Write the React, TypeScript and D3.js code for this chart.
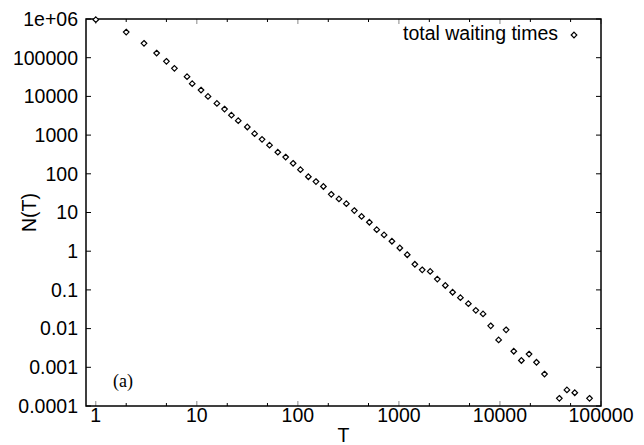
import React from 'react';
import * as d3 from 'd3';

// waiting time T (log-binned) and number of events N(T)
const waitT = [
	1, 2, 3, 4, 5, 6, 8, 9, 11, 12.9, 15.8, 18.8, 22, 25.7, 31.6, 37.3, 44.2, 52.4, 63.3, 75.7,
	89.7, 106, 127, 151, 179, 214, 255, 302, 362, 427, 510, 603, 713, 853, 1021, 1209, 1438,
	1700, 2040, 2400, 2880, 3400, 4060, 4870, 5770, 6800, 8100, 9700, 11500, 13700, 16300,
	19400, 23000, 27600, 38700, 46000, 55000, 77000
];
const waitN = [
	9.6e5, 4.6e5, 2.35e5, 1.32e5, 8.06e4, 5.3e4, 3.23e4, 2.13e4, 1.46e4, 1.0e4, 6.6e3, 4.7e3,
	3.27e3, 2.36e3, 1.62e3, 1.09e3, 776, 549, 361, 271, 187, 128, 84, 63, 47, 29.5, 22.4, 16.9,
	11.2, 7.9, 5.6, 3.6, 2.63, 1.81, 1.21, 0.81, 0.46, 0.33, 0.30, 0.19, 0.13, 0.087, 0.063,
	0.044, 0.0296, 0.024, 0.0118, 0.0051, 0.0093, 0.0026, 0.0015, 0.0022, 0.00135, 0.00067,
	0.000158, 0.00026, 0.00022, 0.000158
];

const xTicks = [1, 10, 100, 1000, 10000, 100000];
const xTickLabels = ['1', '10', '100', '1000', '10000', '100000'];
const yTicks = [1e6, 1e5, 1e4, 1e3, 100, 10, 1, 0.1, 0.01, 0.001, 0.0001];
const yTickLabels = ['1e+06', '100000', '10000', '1000', '100', '10', '1', '0.1', '0.01', '0.001', '0.0001'];

const seriesName = 'total waiting times';

const W = 644, H = 445;
const margin = { top: 19, right: 43, bottom: 39, left: 86 };
const font = '"Liberation Sans", Arial, sans-serif';

const diamond = (cx: number, cy: number, r: number) =>
	`M${cx},${cy - r}L${cx + r},${cy}L${cx},${cy + r}L${cx - r},${cy}Z`;

export default function App() {
	const left = margin.left, right = W - margin.right;
	const top = margin.top, bottom = H - margin.bottom;

	const x = d3.scaleLog().domain([0.8, 100000]).range([left, right]);
	const y = d3.scaleLog().domain([0.0001, 1e6]).range([bottom, top]);

	// minor ticks at 2 and 5 of each decade
	const minorX: number[] = [];
	xTicks.slice(0, -1).forEach(t => { minorX.push(t * 2, t * 5); });

	const points = waitT.map((t, i) => ({ t, n: waitN[i] }));

	return (
		<svg width={W} height={H} style={{ position: 'absolute', left: 0, top: 0, background: '#fff' }}>
			{/* x ticks, bottom and top */}
			{xTicks.map(t => (
				<g key={'xt' + t}>
					<line x1={x(t)} x2={x(t)} y1={bottom} y2={bottom - 5} stroke="#888" strokeWidth={1} />
					<line x1={x(t)} x2={x(t)} y1={top} y2={top + 5} stroke="#888" strokeWidth={1} />
				</g>
			))}
			{minorX.map(t => (
				<g key={'xm' + t}>
					<line x1={x(t)} x2={x(t)} y1={bottom} y2={bottom - 3} stroke="#000" strokeWidth={1} />
					<line x1={x(t)} x2={x(t)} y1={top} y2={top + 3} stroke="#000" strokeWidth={1} />
				</g>
			))}
			{yTicks.map(t => (
				<g key={'yt' + t}>
					<line x1={left} x2={left + 5} y1={y(t)} y2={y(t)} stroke="#000" strokeWidth={1} />
					<line x1={right} x2={right - 5} y1={y(t)} y2={y(t)} stroke="#000" strokeWidth={1} />
				</g>
			))}

			{/* frame */}
			<rect x={left} y={top} width={right - left} height={bottom - top} fill="none" stroke="#000" strokeWidth={1.5} />

			{/* tick labels */}
			{xTicks.map((t, i) => (
				<text key={'xl' + t} x={x(t)} y={bottom + 16} textAnchor="middle" fontFamily={font} fontSize={19.5}>
					{xTickLabels[i]}
				</text>
			))}
			{yTicks.map((t, i) => (
				<text key={'yl' + t} x={left - 8} y={y(t)} dy="0.35em" textAnchor="end" fontFamily={font} fontSize={19.5}>
					{yTickLabels[i]}
				</text>
			))}

			{/* axis titles */}
			<text x={(left + right) / 2} y={442} textAnchor="middle" fontFamily={font} fontSize={19.5}>T</text>
			<text transform={`translate(36,${(top + bottom) / 2}) rotate(-90)`} textAnchor="middle" fontFamily={font} fontSize={19.5}>N(T)</text>

			{/* panel label */}
			<text x={113} y={387} fontFamily='"Liberation Serif", "Times New Roman", serif' fontSize={18}>(a)</text>

			{/* legend */}
			<text x={558} y={39.5} textAnchor="end" fontFamily={font} fontSize={19.5}>{seriesName}</text>
			<path d={diamond(574, 35, 2.8)} fill="#fff" stroke="#000" strokeWidth={1.2} />

			{/* points */}
			{points.map((p, i) => (
				<path key={i} d={diamond(x(p.t), y(p.n), 2.8)} fill="#fff" stroke="#000" strokeWidth={1.2} />
			))}
		</svg>
	);
}
